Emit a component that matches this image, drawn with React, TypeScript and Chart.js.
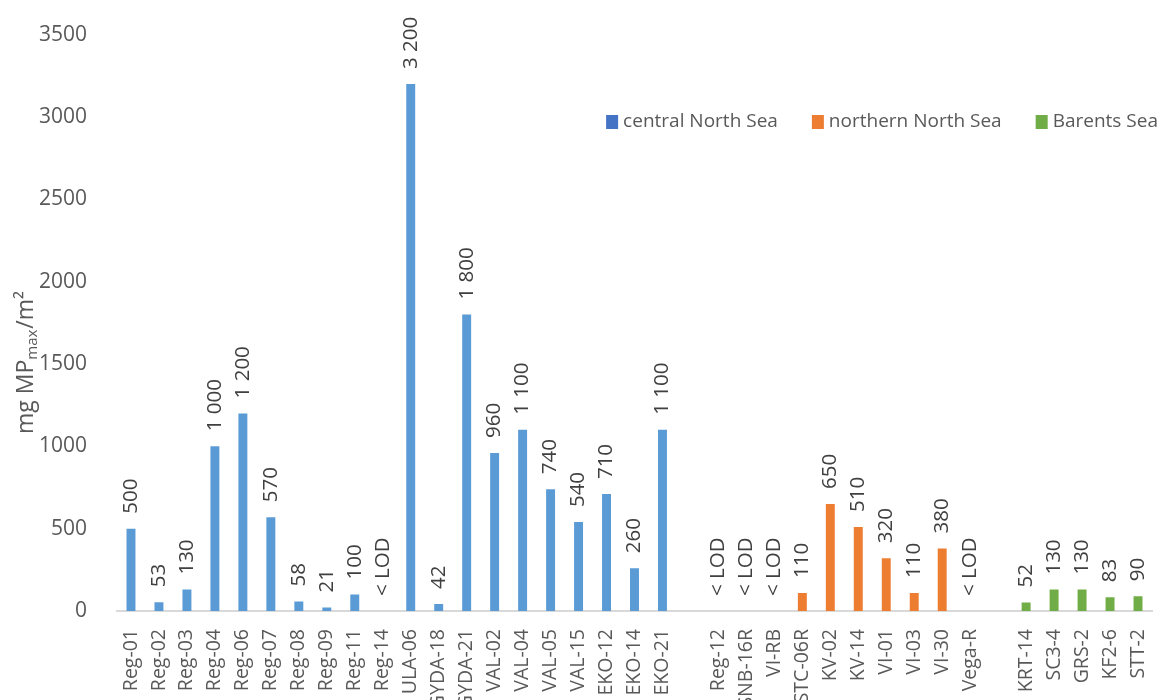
import { useEffect, useRef } from 'react';
import { Chart, registerables } from 'chart.js';

Chart.register(...registerables);

// Sampling sites per sea region
const centralSites = [
  'Reg-01', 'Reg-02', 'Reg-03', 'Reg-04', 'Reg-06', 'Reg-07', 'Reg-08', 'Reg-09', 'Reg-11', 'Reg-14',
  'ULA-06', 'GYDA-18', 'GYDA-21', 'VAL-02', 'VAL-04', 'VAL-05', 'VAL-15', 'EKO-12', 'EKO-14', 'EKO-21',
];
const northernSites = ['Reg-12', 'SNB-16R', 'VI-RB', 'STC-06R', 'KV-02', 'KV-14', 'VI-01', 'VI-03', 'VI-30', 'Vega-R'];
const barentsSites = ['KRT-14', 'SC3-4', 'GRS-2', 'KF2-6', 'STT-2'];

// mg MPmax per m²; null = below limit of detection
const centralValues = [500, 53, 130, 1000, 1200, 570, 58, 21, 100, null, 3200, 42, 1800, 960, 1100, 740, 540, 710, 260, 1100];
const northernValues = [null, null, null, 110, 650, 510, 320, 110, 380, null];
const barentsValues = [52, 130, 130, 83, 90];

const regionNames = ['central North Sea', 'northern North Sea', 'Barents Sea'];
const barColors = ['#5B9BD5', '#ED7D31', '#70AD47'];
const legendColors = ['#4472C4', '#ED7D31', '#70AD47'];

const yTicks = { min: 0, max: 3500, step: 500 };

const groups = [
  { sites: centralSites, values: centralValues },
  { sites: northernSites, values: northernValues },
  { sites: barentsSites, values: barentsValues },
];

// Category axis: the three regions separated by one empty slot each
const categories: string[] = [];
const offsets: number[] = [];
groups.forEach((g, i) => {
  if (i > 0) categories.push('');
  offsets.push(categories.length);
  categories.push(...g.sites);
});

const FONT = '"Open Sans", "DejaVu Sans", sans-serif';

const formatValue = (v: number | null) =>
  v == null ? '< LOD' : String(v).replace(/\B(?=(\d{3})+(?!\d))/g, ' ');

const valueLabels = {
  id: 'valueLabels',
  afterDatasetsDraw(chart: any) {
    const { ctx } = chart;
    const xScale = chart.scales.x;
    const yScale = chart.scales.y;
    ctx.save();
    ctx.font = `20.5px ${FONT}`;
    ctx.fillStyle = '#404040';
    ctx.textAlign = 'left';
    ctx.textBaseline = 'middle';
    groups.forEach((g, gi) => {
      const meta = chart.getDatasetMeta(gi);
      g.values.forEach((v, j) => {
        const idx = offsets[gi] + j;
        const x = xScale.getPixelForValue(idx);
        const top = v == null ? yScale.getPixelForValue(0) : meta.data[idx].y;
        ctx.save();
        ctx.translate(x, top - 15);
        ctx.rotate(-Math.PI / 2);
        ctx.fillText(formatValue(v), 0, 0);
        ctx.restore();
      });
    });
    ctx.restore();
  },
};

const axisTitle = {
  id: 'axisTitle',
  afterDraw(chart: any) {
    const { ctx } = chart;
    ctx.save();
    ctx.translate(33, 434);
    ctx.rotate(-Math.PI / 2);
    ctx.fillStyle = '#595959';
    ctx.textAlign = 'left';
    ctx.textBaseline = 'alphabetic';
    let x = 0;
    ctx.font = `23px ${FONT}`;
    ctx.fillText('mg MP', x, 0);
    x += ctx.measureText('mg MP').width;
    ctx.font = `15px ${FONT}`;
    ctx.fillText('max', x, 4);
    x += ctx.measureText('max').width + 1;
    ctx.font = `23px ${FONT}`;
    ctx.fillText('/m²', x, 0);
    ctx.restore();
  },
};

const regionLegend = {
  id: 'regionLegend',
  afterDraw(chart: any) {
    const { ctx, chartArea } = chart;
    ctx.save();
    ctx.font = `19px ${FONT}`;
    ctx.textBaseline = 'middle';
    ctx.textAlign = 'left';
    const box = 12;
    const gap = 5;
    const spacing = 34;
    const widths = chart.data.datasets.map((d: any) => ctx.measureText(d.label).width);
    const total = widths.reduce((a: number, w: number) => a + box + gap + w, 0) + spacing * (widths.length - 1);
    let x = chartArea.right + 6 - total;
    const y = 122;
    chart.data.datasets.forEach((d: any, i: number) => {
      ctx.fillStyle = legendColors[i];
      ctx.fillRect(x, y - 7, box, 14);
      x += box + gap;
      ctx.fillStyle = '#595959';
      ctx.fillText(d.label, x, y);
      x += widths[i] + spacing;
    });
    ctx.restore();
  },
};

export default function App() {
  const canvasRef = useRef<HTMLCanvasElement | null>(null);

  useEffect(() => {
    if (!canvasRef.current) return;
    const datasets = groups.map((g, gi) => {
      const data: (number | null)[] = categories.map(() => null);
      g.values.forEach((v, j) => {
        data[offsets[gi] + j] = v;
      });
      return {
        label: regionNames[gi],
        data,
        backgroundColor: barColors[gi],
        borderWidth: 0,
        grouped: false,
        barPercentage: 0.32,
        categoryPercentage: 1,
      };
    });

    const chart = new Chart(canvasRef.current, {
      type: 'bar',
      data: { labels: categories, datasets },
      options: {
        animation: false,
        responsive: true,
        maintainAspectRatio: false,
        layout: { padding: { top: 33, right: 12, left: 0, bottom: 0 } },
        plugins: {
          legend: { display: false },
          tooltip: { enabled: false },
        },
        scales: {
          x: {
            grid: { display: false },
            border: { display: true, color: '#D9D9D9', width: 2 },
            ticks: {
              autoSkip: false,
              minRotation: 90,
              maxRotation: 90,
              padding: 10,
              color: '#595959',
              font: { family: FONT, size: 19.5 },
            },
            afterFit: (scale: any) => {
              scale.height = 89;
              scale.paddingLeft = 0;
              scale.paddingRight = 0;
            },
          },
          y: {
            min: yTicks.min,
            max: yTicks.max,
            grid: { display: false },
            border: { display: false },
            ticks: {
              stepSize: yTicks.step,
              padding: 22,
              color: '#595959',
              font: { family: FONT, size: 21 },
              callback: (v: any) => String(v),
            },
            afterFit: (scale: any) => {
              scale.width = 117;
            },
          },
        },
      },
      plugins: [valueLabels, axisTitle, regionLegend],
    });
    return () => chart.destroy();
  }, []);

  return (
    <div style={{ position: 'fixed', left: 0, top: 0, width: 1164, height: 700, background: '#fff' }}>
      <canvas ref={canvasRef} />
    </div>
  );
}
